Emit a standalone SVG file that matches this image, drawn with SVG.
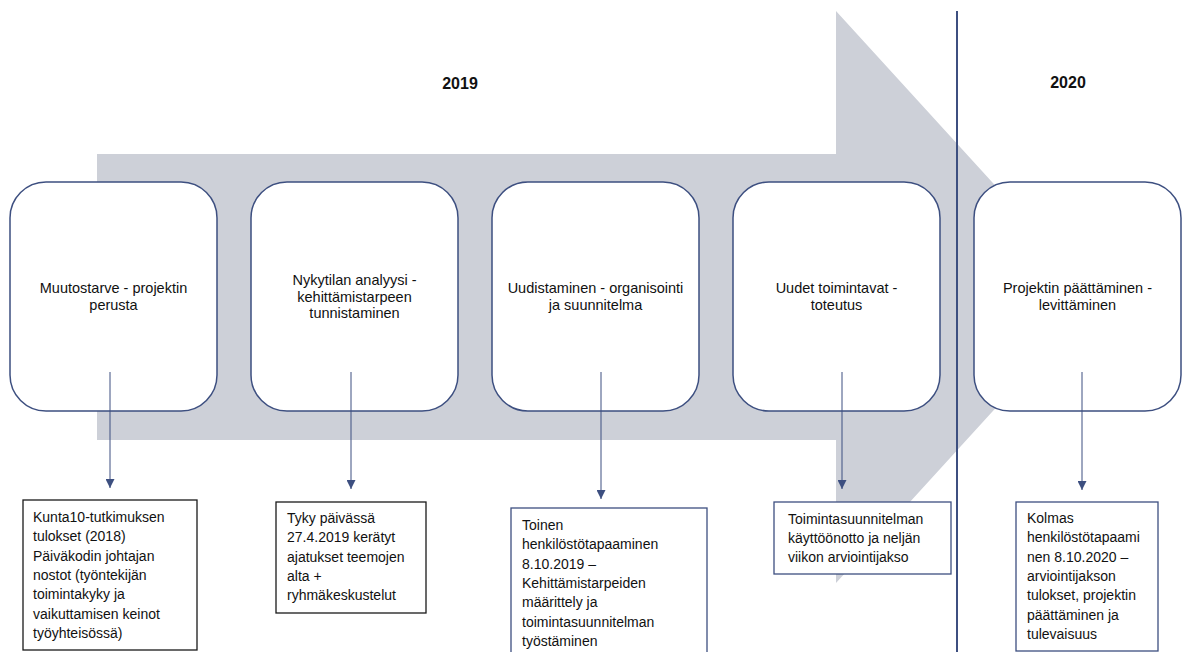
<svg xmlns="http://www.w3.org/2000/svg" width="1187" height="652" viewBox="0 0 1187 652">
  <style>
    .stage { fill: #ffffff; stroke: #3d4f80; stroke-width: 1.5; }
    .note { fill: #ffffff; stroke-width: 1.3; }
    .dark { stroke: #1a1a1a; }
    .blue { stroke: #3d4f80; }
    .t { font-family: "Liberation Sans", Arial, sans-serif; font-size: 14px; fill: #111111; }
    .s { font-size: 14.5px; }
    .c { text-anchor: middle; }
    .yr { font-family: "Liberation Sans", Arial, sans-serif; font-size: 16px; font-weight: bold; fill: #111111; text-anchor: middle; }
    .conn { stroke: #3d4f80; stroke-width: 1; fill: none; marker-end: url(#tri); }
  </style>
  <defs>
    <marker id="tri" viewBox="0 0 10 10" refX="10" refY="5" markerWidth="9" markerHeight="9" markerUnits="userSpaceOnUse" orient="auto">
      <path d="M0,0 L10,5 L0,10 Z" fill="#3d4f80"/>
    </marker>
  </defs>

  <rect width="1187" height="652" fill="#ffffff"/>

  <!-- timeline arrow -->
  <polygon points="97,154 836,154 836,11 1097,297 836,583 836,440 97,440" fill="#cdd0d8"/>

  <!-- year divider -->
  <line x1="957" y1="11" x2="957" y2="652" stroke="#3d4f80" stroke-width="2"/>

  <text class="yr" x="460" y="89">2019</text>
  <text class="yr" x="1068" y="88">2020</text>

  <g id="stage1">
    <rect class="stage" x="10" y="182" width="207" height="229" rx="36"/>
    <text class="t s c" x="113.5" y="293">Muutostarve - projektin</text>
    <text class="t s c" x="113.5" y="310">perusta</text>
  </g>
  <g id="stage2">
    <rect class="stage" x="251" y="182" width="207" height="229" rx="36"/>
    <text class="t s c" x="354.5" y="285">Nykytilan analyysi -</text>
    <text class="t s c" x="354.5" y="302">kehittämistarpeen</text>
    <text class="t s c" x="354.5" y="318">tunnistaminen</text>
  </g>
  <g id="stage3">
    <rect class="stage" x="492" y="182" width="207" height="229" rx="36"/>
    <text class="t s c" x="595.5" y="293">Uudistaminen - organisointi</text>
    <text class="t s c" x="595.5" y="310">ja suunnitelma</text>
  </g>
  <g id="stage4">
    <rect class="stage" x="733" y="182" width="207" height="229" rx="36"/>
    <text class="t s c" x="836.5" y="293">Uudet toimintavat -</text>
    <text class="t s c" x="836.5" y="310">toteutus</text>
  </g>
  <g id="stage5">
    <rect class="stage" x="974" y="182" width="207" height="229" rx="36"/>
    <text class="t s c" x="1077.5" y="293">Projektin päättäminen -</text>
    <text class="t s c" x="1077.5" y="310">levittäminen</text>
  </g>

  <g id="connectors">
    <line class="conn" x1="110" y1="372" x2="110" y2="488"/>
    <line class="conn" x1="351" y1="372" x2="351" y2="489"/>
    <line class="conn" x1="601" y1="372" x2="601" y2="499"/>
    <line class="conn" x1="842" y1="372" x2="842" y2="489"/>
    <line class="conn" x1="1082" y1="372" x2="1082" y2="490"/>
  </g>

  <g id="note1">
    <rect class="note dark" x="23" y="500" width="174" height="150"/>
    <text class="t" x="33" y="522">Kunta10-tutkimuksen</text>
    <text class="t" x="33" y="541">tulokset (2018)</text>
    <text class="t" x="33" y="561">Päiväkodin johtajan</text>
    <text class="t" x="33" y="580">nostot (työntekijän</text>
    <text class="t" x="33" y="599">toimintakyky ja</text>
    <text class="t" x="33" y="619">vaikuttamisen keinot</text>
    <text class="t" x="33" y="638">työyhteisössä)</text>
  </g>
  <g id="note2">
    <rect class="note dark" x="276" y="502" width="150" height="111"/>
    <text class="t" x="287" y="523">Tyky päivässä</text>
    <text class="t" x="287" y="542">27.4.2019 kerätyt</text>
    <text class="t" x="287" y="562">ajatukset teemojen</text>
    <text class="t" x="287" y="581">alta +</text>
    <text class="t" x="287" y="600">ryhmäkeskustelut</text>
  </g>
  <g id="note3">
    <rect class="note blue" x="511" y="508" width="196" height="150"/>
    <text class="t" x="522" y="530">Toinen</text>
    <text class="t" x="522" y="549">henkilöstötapaaminen</text>
    <text class="t" x="522" y="569">8.10.2019 –</text>
    <text class="t" x="522" y="588">Kehittämistarpeiden</text>
    <text class="t" x="522" y="607">määrittely ja</text>
    <text class="t" x="522" y="627">toimintasuunnitelman</text>
    <text class="t" x="522" y="646">työstäminen</text>
  </g>
  <g id="note4">
    <rect class="note blue" x="774" y="502" width="177" height="72"/>
    <text class="t" x="788" y="524">Toimintasuunnitelman</text>
    <text class="t" x="788" y="543">käyttöönotto ja neljän</text>
    <text class="t" x="788" y="562">viikon arviointijakso</text>
  </g>
  <g id="note5">
    <rect class="note blue" x="1016" y="502" width="142" height="149"/>
    <text class="t" x="1027" y="523">Kolmas</text>
    <text class="t" x="1027" y="542">henkilöstötapaami</text>
    <text class="t" x="1027" y="562">nen 8.10.2020 –</text>
    <text class="t" x="1027" y="581">arviointijakson</text>
    <text class="t" x="1027" y="600">tulokset, projektin</text>
    <text class="t" x="1027" y="620">päättäminen ja</text>
    <text class="t" x="1027" y="639">tulevaisuus</text>
  </g>
</svg>
